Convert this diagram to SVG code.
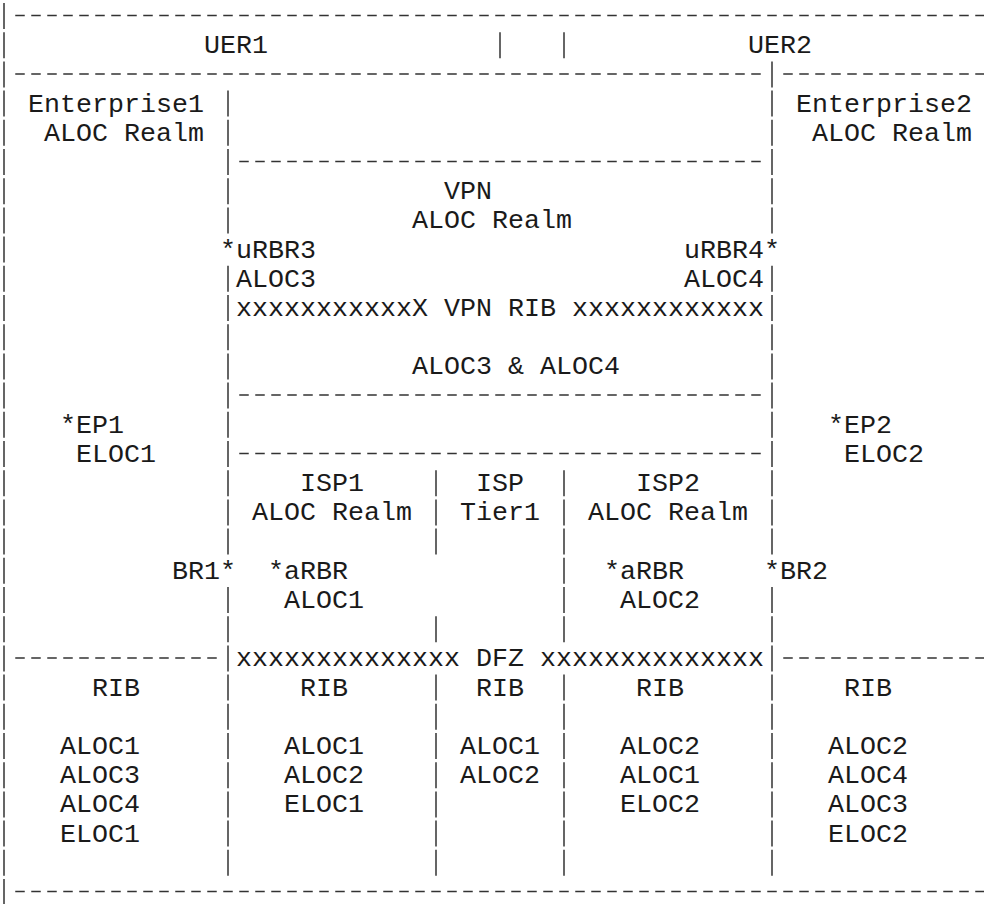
<svg xmlns="http://www.w3.org/2000/svg" width="984" height="904" viewBox="0 0 984 904">
<style>
text{font-family:"Liberation Mono","DejaVu Sans Mono",monospace;font-size:26.667px;fill:#1a1a1a;white-space:pre}
.d{stroke:#333;stroke-width:1.5;stroke-dasharray:9.5 6.5;fill:none}
.p{stroke:#333;stroke-width:1.5;stroke-dasharray:26 3.2;fill:none}
</style>
<rect width="984" height="904" fill="#fff"/>
<g id="connectors">
<line class="d" x1="15.25" y1="15.5" x2="984" y2="15.5"/>
<line class="d" x1="15.25" y1="73.9" x2="760.75" y2="73.9"/>
<line class="d" x1="783.25" y1="73.9" x2="984" y2="73.9"/>
<line class="d" x1="239.25" y1="161.5" x2="760.75" y2="161.5"/>
<line class="d" x1="239.25" y1="395.1" x2="760.75" y2="395.1"/>
<line class="d" x1="239.25" y1="453.5" x2="760.75" y2="453.5"/>
<line class="d" x1="15.25" y1="657.9" x2="216.75" y2="657.9"/>
<line class="d" x1="783.25" y1="657.9" x2="984" y2="657.9"/>
<line class="d" x1="15.25" y1="891.5" x2="984" y2="891.5"/>
<line class="p" x1="4" y1="3" x2="4" y2="904"/>
<line class="p" x1="228" y1="90.6" x2="228" y2="233.4"/>
<line class="p" x1="228" y1="265.8" x2="228" y2="554.6"/>
<line class="p" x1="228" y1="587" x2="228" y2="875.8"/>
<line class="p" x1="436" y1="470.2" x2="436" y2="554.6"/>
<line class="p" x1="436" y1="616.2" x2="436" y2="642.2"/>
<line class="p" x1="436" y1="674.6" x2="436" y2="875.8"/>
<line class="p" x1="500" y1="32.2" x2="500" y2="58.2"/>
<line class="p" x1="564" y1="32.2" x2="564" y2="58.2"/>
<line class="p" x1="564" y1="470.2" x2="564" y2="642.2"/>
<line class="p" x1="564" y1="674.6" x2="564" y2="875.8"/>
<line class="p" x1="772" y1="61.4" x2="772" y2="233.4"/>
<line class="p" x1="772" y1="265.8" x2="772" y2="554.6"/>
<line class="p" x1="772" y1="587" x2="772" y2="875.8"/>
</g>
<g id="uer1"><text x="204" y="53.2">UER1</text></g>
<g id="uer2"><text x="748" y="53.2">UER2</text></g>
<g id="enterprise1"><text x="28" y="111.6">Enterprise1</text><text x="44" y="140.8">ALOC Realm</text></g>
<g id="enterprise2"><text x="796" y="111.6">Enterprise2</text><text x="812" y="140.8">ALOC Realm</text></g>
<g id="vpn"><text x="444" y="199.2">VPN</text><text x="412" y="228.4">ALOC Realm</text></g>
<g id="urbr3"><text x="220" y="257.6">*uRBR3</text><text x="236" y="286.8">ALOC3</text></g>
<g id="urbr4"><text x="684" y="257.6">uRBR4*</text><text x="684" y="286.8">ALOC4</text></g>
<g id="vpn-rib"><text x="236" y="316">xxxxxxxxxxxX VPN RIB xxxxxxxxxxxx</text><text x="412" y="374.4">ALOC3 &amp; ALOC4</text></g>
<g id="ep1"><text x="60" y="432.8">*EP1</text><text x="76" y="462">ELOC1</text></g>
<g id="ep2"><text x="828" y="432.8">*EP2</text><text x="844" y="462">ELOC2</text></g>
<g id="isp1"><text x="300" y="491.2">ISP1</text><text x="252" y="520.4">ALOC Realm</text></g>
<g id="isp-tier1"><text x="476" y="491.2">ISP</text><text x="460" y="520.4">Tier1</text></g>
<g id="isp2"><text x="636" y="491.2">ISP2</text><text x="588" y="520.4">ALOC Realm</text></g>
<g id="br1"><text x="172" y="578.8">BR1*</text></g>
<g id="arbr1"><text x="268" y="578.8">*aRBR</text><text x="284" y="608">ALOC1</text></g>
<g id="arbr2"><text x="604" y="578.8">*aRBR</text><text x="620" y="608">ALOC2</text></g>
<g id="br2"><text x="764" y="578.8">*BR2</text></g>
<g id="dfz"><text x="236" y="666.4">xxxxxxxxxxxxxx DFZ xxxxxxxxxxxxxx</text></g>
<g id="rib-enterprise1"><text x="92" y="695.6">RIB</text><text x="60" y="754">ALOC1</text><text x="60" y="783.2">ALOC3</text><text x="60" y="812.4">ALOC4</text><text x="60" y="841.6">ELOC1</text></g>
<g id="rib-isp1"><text x="300" y="695.6">RIB</text><text x="284" y="754">ALOC1</text><text x="284" y="783.2">ALOC2</text><text x="284" y="812.4">ELOC1</text></g>
<g id="rib-tier1"><text x="476" y="695.6">RIB</text><text x="460" y="754">ALOC1</text><text x="460" y="783.2">ALOC2</text></g>
<g id="rib-isp2"><text x="636" y="695.6">RIB</text><text x="620" y="754">ALOC2</text><text x="620" y="783.2">ALOC1</text><text x="620" y="812.4">ELOC2</text></g>
<g id="rib-enterprise2"><text x="844" y="695.6">RIB</text><text x="828" y="754">ALOC2</text><text x="828" y="783.2">ALOC4</text><text x="828" y="812.4">ALOC3</text><text x="828" y="841.6">ELOC2</text></g>
</svg>
